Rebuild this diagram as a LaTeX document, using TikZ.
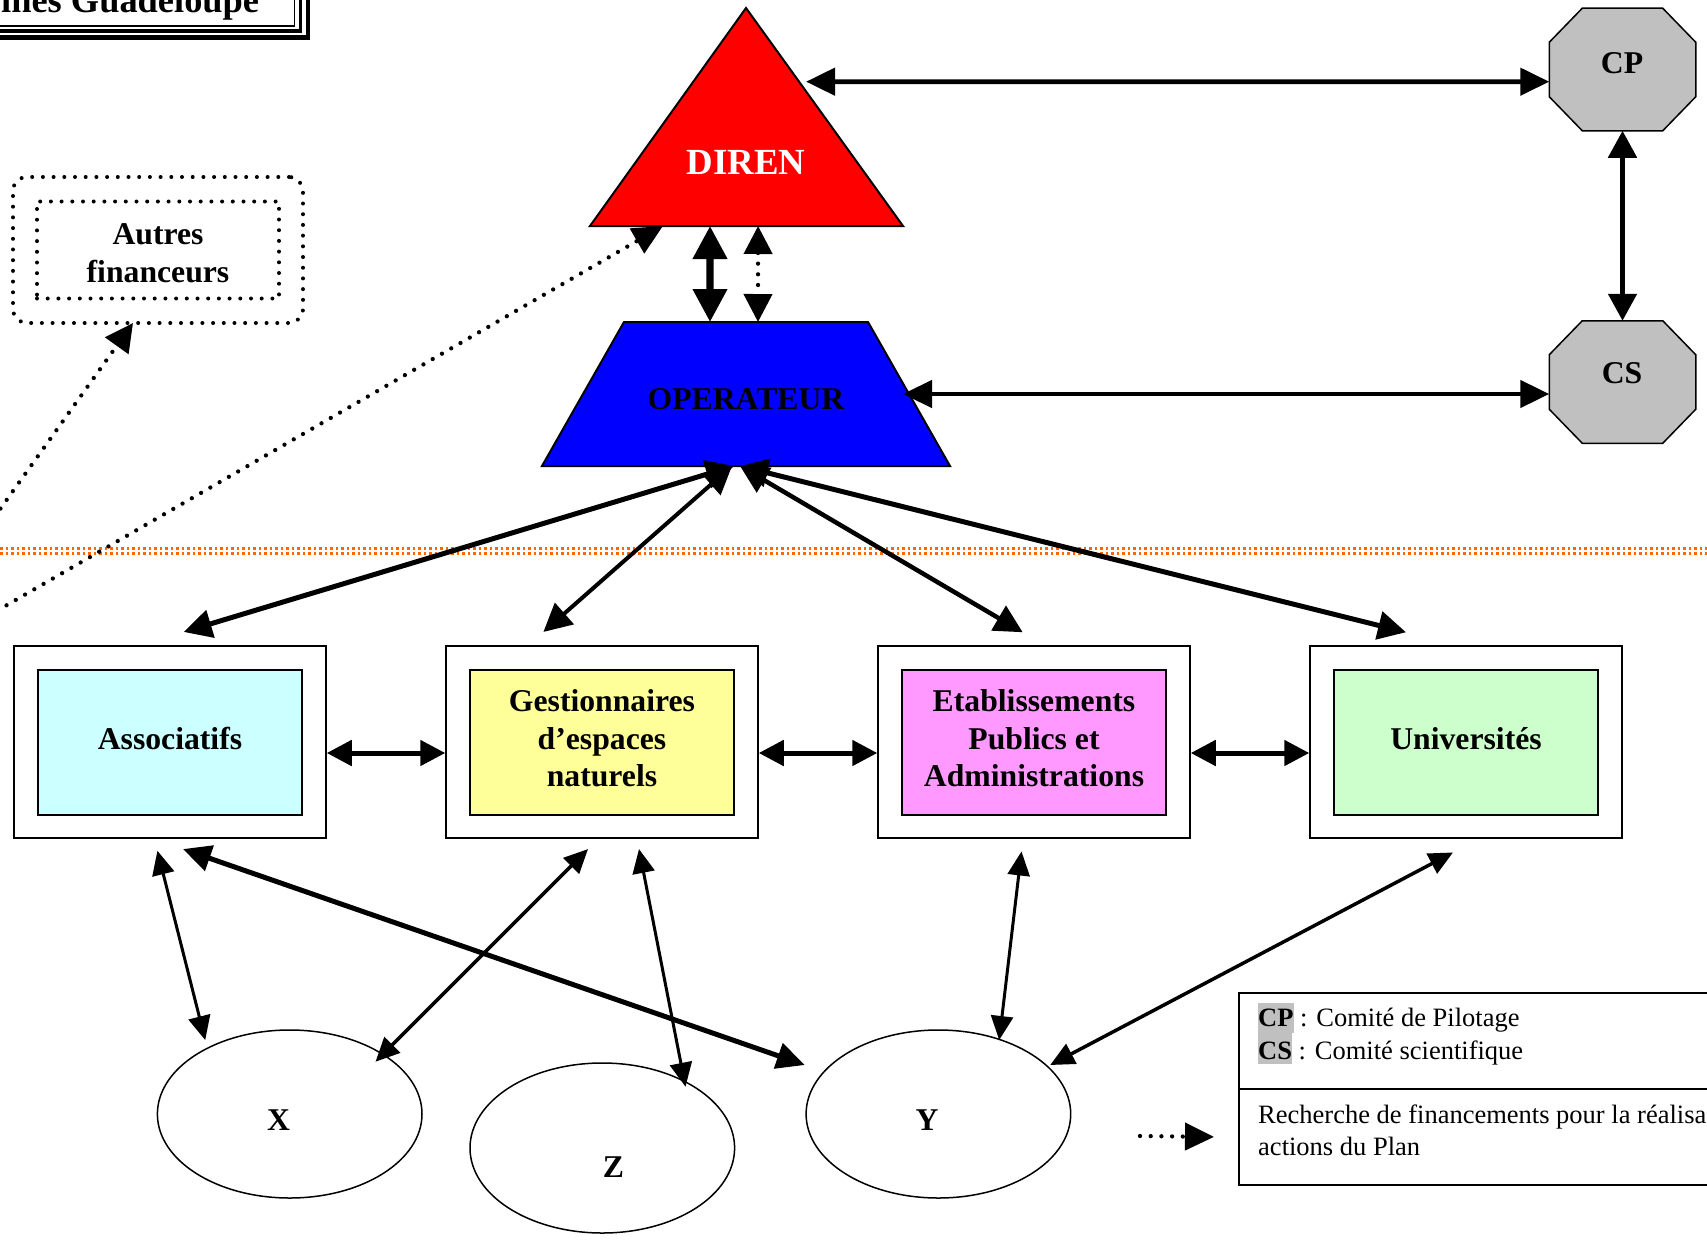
\documentclass[tikz,border=0pt]{standalone}
\usepackage{fontspec}
\setmainfont{Liberation Serif}
\usetikzlibrary{arrows.meta,shapes.geometric,calc}

\definecolor{cAssoc}{HTML}{CCFFFF}
\definecolor{cGest}{HTML}{FFFF99}
\definecolor{cEtab}{HTML}{FF99FF}
\definecolor{cUniv}{HTML}{CCFFCC}
\definecolor{cGray}{HTML}{C0C0C0}
\definecolor{cOrange}{HTML}{FF6600}

\newcommand\fbig{\fontsize{31.7pt}{37.5pt}\selectfont\bfseries}
\newcommand\fdiren{\fontsize{36.8pt}{40pt}\selectfont\bfseries}
\newcommand\ftitle{\fontsize{36.4pt}{40pt}\selectfont\bfseries}
\newcommand\fleg{\fontsize{26.5pt}{31.7pt}\selectfont}
\newcommand\hlbox[3]{{\setlength\fboxsep{0pt}\colorbox{cGray}{\rule[-#3]{0pt}{\dimexpr#2+#3\relax}\textbf{#1}}}}
\newcommand\lowstrut{\rule[-9pt]{0pt}{9pt}}
\newcommand\octopath[1]{\draw[fill=cGray, line width=1.5pt, line join=miter]
  ($(#1.north west)+(33,0)$) -- ($(#1.north east)+(-33,0)$) -- ($(#1.north east)+(0,34)$) --
  ($(#1.south east)+(0,-34)$) -- ($(#1.south east)+(-33,0)$) -- ($(#1.south west)+(33,0)$) --
  ($(#1.south west)+(0,-34)$) -- ($(#1.north west)+(0,34)$) -- cycle;}

\tikzset{
  outerbox/.style={draw, line width=1.5pt, minimum width=312pt, minimum height=192pt, inner sep=0pt},
  innerbox/.style={draw, line width=2pt, minimum width=264pt, minimum height=145pt, inner sep=0pt, align=center, font=\fbig},
  ell/.style={ellipse, draw, line width=1.5pt, minimum width=264.6pt, minimum height=168pt, inner sep=0pt},
  octo/.style={minimum width=145pt, minimum height=121pt, inner sep=0pt, outer sep=0.75pt},
  lbl/.style={inner sep=0pt, font=\fbig, align=center},
  dotline/.style={line width=4.3pt, line cap=round, dash pattern=on 0pt off 10.7pt},
  dotframe/.style={draw, line width=4pt, line cap=round, dash pattern=on 0pt off 10.7pt},
  both/.style 2 args={arrows={Triangle[length=#1,width=#2]-Triangle[length=#1,width=#2]}},
  fwd/.style 2 args={arrows={-Triangle[length=#1,width=#2]}},
  sep/.style={cOrange, line width=2.5pt, dash pattern=on 2.5pt off 3pt}
}

\begin{document}
\begin{tikzpicture}[x=1pt,y=-1pt]
\useasboundingbox (0,0) rectangle (1707,1239);
\fill[white] (0,0) rectangle (1707,1239);

% title frame (cut by the page edge, as in the reference)
\draw[line width=1.7pt] (-20,-20) rectangle (294.5,25.8);
\draw[line width=3.4pt] (-20,-20) rectangle (300.5,31);
\draw[line width=4.5pt] (-20,-20) rectangle (308,37.3);
\node[anchor=base west, inner sep=0pt, font=\ftitle] (title) at (1,13) {ines Guadeloupe};

% orange separator
\draw[sep] (0,548.3) -- (1707,548.3);
\draw[sep] (0,553.3) -- (1707,553.3);

% DIREN triangle corners and free ends
\coordinate (dA) at (746,8);
\coordinate (dL) at (590,226);
\coordinate (dR) at (903,226);
\coordinate (fin1) at (-12,526);
\coordinate (fin2) at (-12,616);
\coordinate (legS) at (1140,1136);

% Autres financeurs
\node[dotframe, rounded corners=14pt, fill=white, minimum width=290pt, minimum height=146pt, outer sep=0pt] (autres) at (158,250) {};
\node[dotframe, minimum width=242pt, minimum height=97pt, inner sep=0pt, align=center, font=\fbig] (autresIn) at (158,250) {\rule{0pt}{27.4pt}Autres\\financeurs};
\draw[dotline, fwd={28pt}{28pt}] (fin1) -- ([shift={(-25,0)}]autres.south);

% dotted arrow to DIREN (head partly under the triangle)
\draw[dotline, fwd={30pt}{28pt}] (fin2) -- ($(dL)!0.233!(dR)$);

% DIREN
\draw[fill=red, line width=2pt, line join=miter] (dA) -- (dR) -- (dL) -- cycle;
\node[font=\fdiren, text=white, inner sep=0pt] (diren) at (746,162.5) {DIREN};

% OPERATEUR
\node[minimum width=408pt, minimum height=144pt, inner sep=0pt, outer sep=0pt] (oper) at (746,394) {};
\draw[fill=blue, line width=2pt, line join=miter] ($(oper.north west)+(82,0)$) -- ($(oper.north east)+(-82,0)$) -- (oper.south east) -- (oper.south west) -- cycle;
\node[lbl] (opertxt) at (746,399) {OPERATEUR};

% CP, CS
\node[octo] (CP) at (1622.5,69.5) {};
\octopath{CP}
\node[lbl] (cptxt) at (1622,63) {CP};
\node[octo] (CS) at (1622.5,382) {};
\octopath{CS}
\node[lbl] (cstxt) at (1622,373) {CS};

% boxes
\node[outerbox] (assoc) at (170,742) {};
\node[innerbox, fill=cAssoc] (assocIn) at (170,742.5) {Associatifs\lowstrut};
\node[outerbox] (gest) at (602,742) {};
\node[innerbox, fill=cGest] (gestIn) at (602,742.5) {Gestionnaires\\d’espaces\\naturels\lowstrut};
\node[outerbox] (etab) at (1034,742) {};
\node[innerbox, fill=cEtab] (etabIn) at (1034,742.5) {Etablissements\\Publics et\\Administrations\lowstrut};
\node[outerbox] (univ) at (1466,742) {};
\node[innerbox, fill=cUniv] (univIn) at (1466,742.5) {Universités\lowstrut};

% ellipses
\node[ell] (X) at (289.7,1114) {};
\node[lbl] (Xt) at (278.6,1120) {X};
\node[ell, minimum height=170pt] (Z) at (602.3,1148) {};
\node[lbl] (Zt) at (613.4,1166.7) {Z};
\node[ell] (Y) at (938.4,1114) {};
\node[lbl] (Yt) at (927,1120) {Y};

% legend
\node[draw, line width=1.5pt, minimum width=482pt, minimum height=96pt, inner sep=0pt, anchor=north west] (legtop) at (1238.3,992.3) {};
\node[draw, line width=1.5pt, minimum width=482pt, minimum height=95.7pt, inner sep=0pt, anchor=north west] (legbot) at (1238.3,1088.3) {};
\node[anchor=base west, inner sep=0pt, font=\fleg] (legcp) at (1258,1026) {\hlbox{CP}{23.3pt}{7.3pt} : Comité de Pilotage};
\node[anchor=base west, inner sep=0pt, font=\fleg] (legcs) at (1258,1059.5) {\hlbox{CS}{26.2pt}{4pt} : Comité scientifique};
\node[anchor=base west, inner sep=0pt, font=\fleg] (legr1) at (1258,1123.3) {Recherche de financements pour la réalisa};
\node[anchor=base west, inner sep=0pt, font=\fleg] (legr2) at (1258,1155) {actions du Plan};
\draw[dotline, fwd={29pt}{27pt}] (legS) -- ([shift={(-24.3,0)}]legbot.west);

% top connectors
\draw[line width=4.7pt, both={29pt}{27pt}] ($(dA)!0.338!(dR)+(7,0)$) -- ([shift={(0,12.2)}]CP.west);
\draw[line width=4.7pt, both={29pt}{27pt}] ([shift={(-47,0)}]oper.east) -- ([shift={(0,12)}]CS.west);
\draw[line width=5pt, both={27pt}{28pt}] (CP.south) -- (CS.north);
\draw[line width=7.3pt, both={33pt}{33pt}] ($(dL)!0.3834!(dR)$) -- ([shift={(-36,0)}]oper.north);
\draw[dotline, both={28pt}{28pt}] ($(dL)!0.537!(dR)$) -- ([shift={(12,0)}]oper.north);

% operator to boxes
\draw[line width=5pt, both={28pt}{28pt}] ([shift={(-12,0)}]oper.south) -- ([shift={(13.7,-13.3)}]assoc.north);
\draw[line width=4pt, both={28pt}{28pt}] ([shift={(-14,0)}]oper.south) -- ([shift={(-58.6,-13.3)}]gest.north);
\draw[line width=4.5pt, both={28pt}{28pt}] ([shift={(-6,0)}]oper.south) -- ([shift={(-11.3,-13)}]etab.north);
\draw[line width=5pt, both={28pt}{28pt}] ([shift={(-6,0)}]oper.south) -- ([shift={(-60,-13)}]univ.north);

% between boxes
\draw[line width=5pt, both={25pt}{25pt}] ([shift={(0,11)}]assoc.east) -- ([shift={(0,11)}]gest.west);
\draw[line width=5pt, both={25pt}{25pt}] ([shift={(0,11)}]gest.east) -- ([shift={(0,11)}]etab.west);
\draw[line width=5pt, both={25pt}{25pt}] ([shift={(0,11)}]etab.east) -- ([shift={(0,11)}]univ.west);

% boxes to ellipses
\draw[line width=3pt, both={24pt}{22pt}] ([shift={(-12.6,12)}]assoc.south) -- ([shift={(-84.5,-74)}]X.center);
\draw[line width=5pt, both={28pt}{26pt}] ([shift={(13,10.3)}]assoc.south) -- ([shift={(-133.7,-49)}]Y.center);
\draw[line width=3.5pt, both={24pt}{22pt}] ([shift={(-14,10.3)}]gest.south) -- ([shift={(85.8,-52.3)}]X.center);
\draw[line width=3pt, both={24pt}{22pt}] ([shift={(37,10.3)}]gest.south) -- ([shift={(83.2,-61.3)}]Z.center);
\draw[line width=3pt, both={24pt}{22pt}] ([shift={(-12.5,12.7)}]etab.south) -- ([shift={(60.8,-74)}]Y.center);
\draw[line width=3.5pt, both={24pt}{22pt}] ([shift={(-13,13.7)}]univ.south) -- ([shift={(111.8,-49)}]Y.center);
\end{tikzpicture}
\end{document}
